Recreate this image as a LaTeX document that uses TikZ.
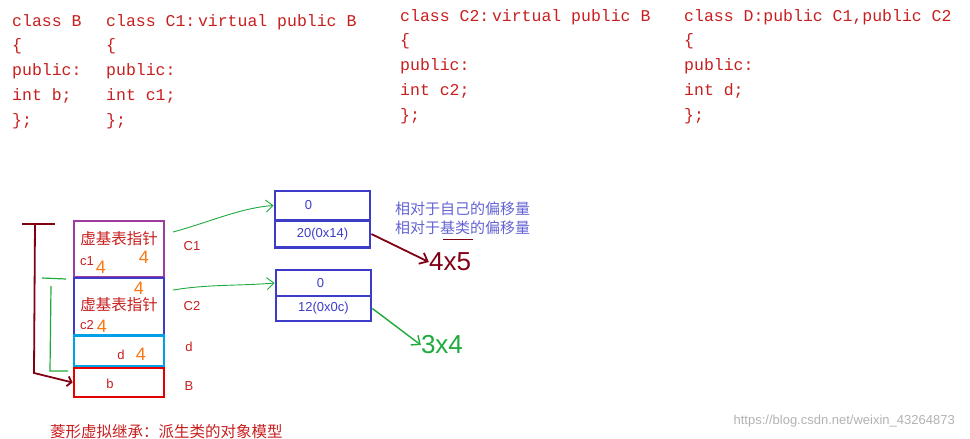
\documentclass[tikz,border=0pt]{standalone}
\usepackage{fontspec}
\setmainfont{Liberation Sans}
\setmonofont{Liberation Mono}
\newfontfamily\cjk{Noto Sans CJK SC}
\usetikzlibrary{arrows.meta}
\definecolor{codered}{RGB}{200,30,30}
\definecolor{dred}{RGB}{128,0,20}
\definecolor{hgreen}{RGB}{30,170,60}
\definecolor{bblue}{RGB}{60,60,200}
\definecolor{lblue}{RGB}{0,160,230}
\definecolor{purp}{RGB}{160,60,160}
\definecolor{orng}{RGB}{250,120,20}
\begin{document}
\begin{tikzpicture}[x=1pt,y=-1pt,
 code/.style={anchor=north west,align=left,text=codered,font=\ttfamily\fontsize{16.5}{24.8}\selectfont,inner sep=0},
 lab/.style={text=codered,font=\fontsize{13}{14}\selectfont,inner sep=0},
 cell/.style={draw,line width=2.8pt,minimum width=#1,inner sep=0},
 tab/.style={text=bblue,font=\fontsize{13}{14}\selectfont},
 four/.style={text=orng,font=\fontsize{18}{18}\selectfont,inner sep=0},
 hand/.style={line width=1pt,-{Straight Barb[length=7pt,width=12pt]}}]
\useasboundingbox (0,0) rectangle (970,439);
\node[code] (cb) at (12,14) {class B\\\{\\public:\\int b;\\\};};
\node[code] (cc1) at (106,14) {class C1:\,virtual public B\\\{\\public:\\int c1;\\\};};
\node[code] (cc2) at (400,9) {class C2:\,virtual public B\\\{\\public:\\int c2;\\\};};
\node[code] (cd) at (684,9) {class D:public C1,public C2\\\{\\public:\\int d;\\\};};
% object boxes
\node[cell=90pt,minimum height=56pt,draw=purp] (bc1) at (119,249) {};
\node[cell=90pt,minimum height=57pt,draw=bblue] (bc2) at (119,306.5) {};
\node[cell=90pt,minimum height=31pt,draw=lblue] (bd) at (119,351) {};
\node[cell=90pt,minimum height=29pt,draw=red!90!black] (bb) at (119,382.5) {};
\node[lab,font=\cjk\fontsize{15.5}{16}\selectfont] (t1) at (119,239) {虚基表指针};
\node[lab,font=\cjk\fontsize{15.5}{16}\selectfont] (t2) at (119,305) {虚基表指针};
\node[lab] (tc1) at (87,261) {c1};
\node[lab] (tc2) at (87,325) {c2};
\node[lab] (td) at (121,355) {d};
\node[lab] (tb) at (110,384) {b};
\node[four] (f1) at (144,257) {4};
\node[four] (f2) at (101,267) {4};
\node[four] (f3) at (139,288) {4};
\node[four] (f4) at (102,326) {4};
\node[four] (f5) at (141,354) {4};
\node[lab] (lC1) at (192,246) {C1};
\node[lab] (lC2) at (192,306) {C2};
\node[lab] (ld) at (189,347) {d};
\node[lab] (lB) at (189,386) {B};
% tables
\node[cell=95pt,minimum height=29pt,draw=bblue,tab] (v10) at (322.5,205.5) {\hspace*{-28pt}0};
\node[cell=95pt,minimum height=27pt,draw=bblue,tab] (v11) at (322.5,234) {20(0x14)};
\node[cell=95pt,minimum height=26pt,draw=bblue,tab] (v20) at (323.5,283) {\hspace*{-6pt}0};
\node[cell=95pt,minimum height=25pt,draw=bblue,tab] (v21) at (323.5,308.5) {12(0x0c)};
\node[anchor=west,align=left,text=bblue!80,font=\cjk\fontsize{15}{19}\selectfont,inner sep=0] (note) at (395,218) {相对于自己的偏移量\\相对于基类的偏移量};
\draw[dred,line width=1pt] (443,239) -- (473,239);
% hand arrows
\coordinate (a1) at (173,232); \coordinate (a2) at (173,290);
\draw[hand,hgreen,line width=0.9pt] (a1) .. controls (210,222) and (240,208) .. (v10.west);
\draw[hand,hgreen,line width=0.9pt] (a2) .. controls (210,284) and (240,286) .. (v20.west);
\node[text=dred,font=\fontsize{26}{26}\selectfont,inner sep=0] (h45) at (450,262) {4x5};
\node[text=hgreen,font=\fontsize{26}{26}\selectfont,inner sep=0] (h34) at (442,345) {3x4};
\draw[hand,dred,line width=1.8pt] (v11.east) -- (h45.west);
\draw[hand,hgreen,line width=1.4pt] (v21.east) -- (h34.west);
% brackets
\coordinate (r0) at (22,224); \coordinate (r1) at (55,224);
\draw[dred,line width=1.8pt] (r0) -- (r1);
\draw[dred,line width=1.8pt,-{Straight Barb[length=4pt,width=10pt]}] (35,224) -- (34,373) -- (bb.west);
\draw[hgreen,line width=1.2pt] (42,278) -- (66,279);
\draw[hgreen,line width=1.2pt] (51,286) -- (50,371) -- (68,371);
\node[text=codered,font=\cjk\fontsize{15.5}{16}\selectfont,anchor=west,inner sep=0] (foot) at (50,432) {菱形虚拟继承：派生类的对象模型};
\node[text=gray!60,font=\fontsize{13}{14}\selectfont,anchor=east,inner sep=0] (wm) at (955,421) {https://blog.csdn.net/weixin\_43264873};
\end{tikzpicture}
\end{document}
